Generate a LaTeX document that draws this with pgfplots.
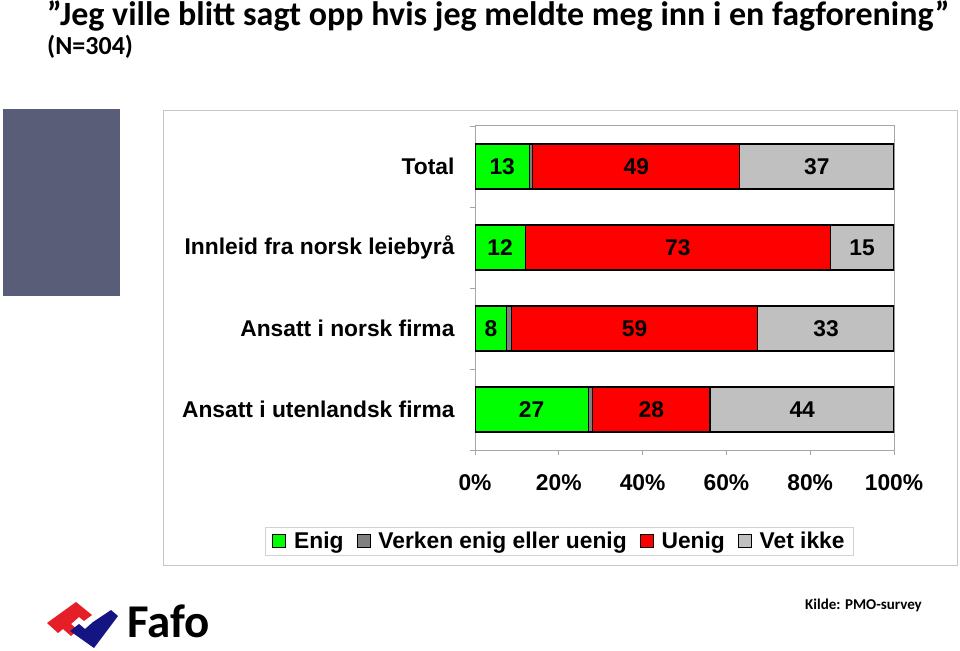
\documentclass[border=0pt]{standalone}
\usepackage{pgfplots}
\pgfplotsset{compat=1.18}
\usepackage{fontspec}
\setmainfont{Liberation Sans}
\newfontfamily\carlito{Carlito}
\definecolor{slate}{RGB}{89,93,120}
\definecolor{cgreen}{RGB}{0,255,0}
\definecolor{cdgray}{RGB}{128,128,128}
\definecolor{cred}{RGB}{255,0,0}
\definecolor{clgray}{RGB}{192,192,192}
\definecolor{fafored}{RGB}{230,30,40}
\definecolor{fafoblue}{RGB}{20,20,130}
\newcommand{\cf}{\fontsize{22.8}{27}\selectfont\bfseries}
\pgfplotsset{
  common/.style={
    at={(475pt,200pt)}, anchor=south west,
    width=419pt, height=324pt, scale only axis,
    xmin=0, xmax=100, ymin=-0.5, ymax=3.5, y dir=reverse,
  }
}
\begin{document}
\begin{tikzpicture}[x=1pt,y=1pt]
\useasboundingbox (0,0) rectangle (960,650);
% decorative block
\fill[slate] (3,541) rectangle (120,354);
% chart frame
\draw[gray!45, line width=1pt, fill=white] (163,539) rectangle (957,84);
\begin{axis}[common,
  xbar stacked, bar width=45pt,
  axis line style={draw=gray!70, line width=1pt},
  xtick={0,20,40,60,80,100},
  xticklabel={\pgfmathprintnumber[assume math mode=true]{\tick}\%},
  ytick={0,1,2,3},
  yticklabels={Total, Innleid fra norsk leiebyrå, Ansatt i norsk firma, Ansatt i utenlandsk firma},
  minor ytick={-0.5,0.5,1.5,2.5,3.5},
  tick align=outside,
  major tick length=5pt, minor tick length=5pt,
  y tick style={draw=none},
  minor y tick style={draw=gray!70, line width=0.8pt},
  x tick style={draw=gray!70, line width=0.8pt},
  xtick pos=bottom, ytick pos=left,
  tick label style={font=\cf},
  xticklabel style={yshift=-16pt},
  yticklabel style={xshift=-12pt},
  legend style={at={(0.2017,-0.281)}, anchor=center, legend columns=-1,
    draw=gray!35, line width=0.8pt, font=\cf,
    inner xsep=7pt, inner ysep=3pt,
    /tikz/every odd column/.append style={column sep=6pt},
    /tikz/every even column/.append style={column sep=11pt}},
  legend image code/.code={\draw[#1, draw=black, line width=0.8pt] (0pt,-6pt) rectangle (13pt,7pt);},
  every axis plot/.append style={draw=black, line width=1.2pt},
]
\addplot[fill=cgreen] coordinates {(13,0) (12,1) (7.6,2) (27,3)};
\addplot[fill=cdgray] coordinates {(0.8,0) (0,1) (1.1,2) (1.1,3)};
\addplot[fill=cred] coordinates {(49.4,0) (72.8,1) (58.8,2) (28,3)};
\addplot[fill=clgray] coordinates {(36.8,0) (15.2,1) (32.5,2) (43.9,3)};
\legend{Enig, Verken enig eller uenig, Uenig, Vet ikke}
\end{axis}
% value labels
\begin{axis}[common, hide axis]
\addplot[draw=none, mark=none, nodes near coords, point meta=explicit symbolic,
  every node near coord/.append style={anchor=center, font=\cf}]
  table[meta=lab] {
x y lab
6.5 0 13
38.5 0 49
81.6 0 37
6 1 12
48.4 1 73
92.4 1 15
3.8 2 8
38.1 2 59
83.8 2 33
13.5 3 27
42.1 3 28
78.1 3 44
};
\end{axis}
% title
\node[anchor=base west, inner sep=0pt, font=\carlito\bfseries\fontsize{34}{38}\selectfont] at (47,624) {”Jeg ville blitt sagt opp hvis jeg meldte meg inn i en fagforening”};
\node[anchor=base west, inner sep=0pt, font=\carlito\bfseries\fontsize{26}{30}\selectfont] at (47,595) {(N=304)};
% source
\node[anchor=base west, inner sep=0pt, font=\carlito\bfseries\fontsize{15}{18}\selectfont] at (805,41) {Kilde: PMO-survey};
% Fafo logo
\fill[fafored] (47,27) -- (76,48) -- (92,35) -- (84,29) -- (79,33) -- (71,26) -- (78,20) -- (71,14) -- (63,21) -- (58,17) -- cycle;
\fill[fafoblue] (70,19) -- (79,26) -- (85,21) -- (93,28) -- (111,40) -- (118,34) -- (94,2) -- cycle;
\node[anchor=base west, inner sep=0pt, font=\carlito\bfseries\fontsize{47}{50}\selectfont] at (127,13) {Fafo};
\end{tikzpicture}
\end{document}
